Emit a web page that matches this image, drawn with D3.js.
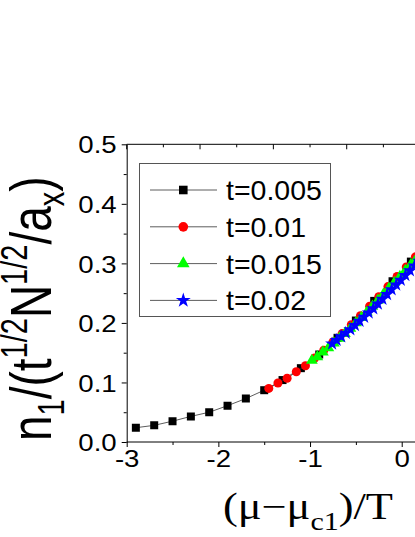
<!DOCTYPE html>
<html><head><meta charset="utf-8">
<script src="https://cdn.jsdelivr.net/npm/d3@7"></script>
<style>body{margin:0;background:#fff;}svg{display:block;}</style>
</head><body>
<svg id="c" width="415" height="537"></svg>
<script>
// ---- data ----
const seriesNames = ["t=0.005", "t=0.01", "t=0.015", "t=0.02"];
const xBlack = [-2.9,-2.7,-2.5,-2.3,-2.1,-1.9,-1.7,-1.5,-1.3,-1.1,-0.9,-0.7,-0.5,-0.3,-0.1,0.1,0.3];
const yBlack = [0.024,0.028,0.035,0.043,0.050,0.061,0.073,0.087,0.104,0.124,0.147,0.175,0.204,0.237,0.270,0.303,0.338];
const xRed = [-1.45,-1.35,-1.25,-1.15,-1.05,-0.95,-0.85,-0.75,-0.65,-0.55,-0.45,-0.35,-0.25,-0.15,-0.05,0.05,0.15,0.25];
const yRed = [0.090,0.099,0.107,0.118,0.128,0.141,0.154,0.168,0.182,0.197,0.212,0.228,0.244,0.261,0.278,0.294,0.311,0.328];
const xGreen = [-0.98,-0.92,-0.86,-0.80,-0.74,-0.68,-0.62,-0.56,-0.50,-0.44,-0.38,-0.32,-0.26,-0.20,-0.14,-0.08,-0.02,0.04,0.10,0.16,0.22];
const yGreen = [0.137,0.143,0.151,0.158,0.166,0.174,0.182,0.191,0.200,0.209,0.218,0.228,0.238,0.248,0.258,0.268,0.278,0.288,0.298,0.308,0.318];
const xBlue = [-0.76,-0.71,-0.66,-0.61,-0.56,-0.51,-0.46,-0.41,-0.36,-0.31,-0.26,-0.21,-0.16,-0.11,-0.06,-0.01,0.04,0.09,0.14,0.19];
const yBlue = [0.165,0.171,0.177,0.183,0.189,0.196,0.203,0.210,0.217,0.224,0.232,0.240,0.248,0.256,0.264,0.272,0.280,0.288,0.296,0.304];
const xTicks = [-3,-2,-1,0];
const xMinorTicks = [-2.5,-1.5,-0.5];
const yTicks = [0.0,0.1,0.2,0.3,0.4,0.5];
const yMinorTicks = [0.05,0.15,0.25,0.35,0.45];
const topMajorTicks = [-3,-2.2,-1.4,-0.6];
const topMinorTicks = [-2.6,-1.8,-1.0,-0.2];
const colors = ["#000000","#ff0000","#00ff00","#0000ff"];
const symbols = [d3.symbolSquare, d3.symbolCircle, d3.symbolTriangle, d3.symbolStar];
const symSizes = [64, 64, 60, 60];

// ---- layout ----
const svg = d3.select("#c");
const x = d3.scaleLinear().domain([-3, 0.2]).range([126.7, 126.7 + 3.2*91.67]);
const y = d3.scaleLinear().domain([0, 0.5]).range([442, 144.3]);
const FONT = "Liberation Sans, Arial, sans-serif";
const STRETCH = 1.15;

const series = [
  {name: seriesNames[0], xs: xBlack, ys: yBlack},
  {name: seriesNames[1], xs: xRed, ys: yRed},
  {name: seriesNames[2], xs: xGreen, ys: yGreen},
  {name: seriesNames[3], xs: xBlue, ys: yBlue}
];

svg.append("clipPath").attr("id","clip").append("rect")
  .attr("x", 126.7).attr("y", 100).attr("width", 415-126.7).attr("height", 342);

const plot = svg.append("g").attr("clip-path","url(#clip)");
const line = d3.line().x(d=>x(d[0])).y(d=>y(d[1]));
series.forEach((s,i)=>{
  const pts = s.xs.map((v,j)=>[v, s.ys[j]]);
  plot.append("path").datum(pts).attr("d", line)
    .attr("fill","none").attr("stroke","#333").attr("stroke-width",0.8);
  plot.selectAll(null).data(pts).enter().append("path")
    .attr("transform", d=>`translate(${x(d[0])},${y(d[1])})`)
    .attr("d", d3.symbol().type(symbols[i]).size(symSizes[i]))
    .attr("fill", colors[i]);
});

// ---- axes ----
const axB = svg.append("g").attr("transform","translate(0,442)")
  .call(d3.axisBottom(x).tickValues(xTicks).tickSize(5).tickSizeOuter(0).tickFormat(d=>d===0?"0":String(d)));
axB.select(".domain").attr("d", `M${x(-3)},0H415`).attr("stroke","#000");
axB.selectAll(".tick line").attr("stroke","#000");
axB.selectAll(".tick text").attr("font-family",FONT).attr("font-size",24).attr("fill","#000")
  .attr("y",8).attr("dy","0.71em").attr("transform",`scale(${STRETCH},1)`);
svg.append("g").attr("transform","translate(0,442)")
  .call(d3.axisBottom(x).tickValues(xMinorTicks).tickSize(3).tickFormat(""))
  .call(g=>g.select(".domain").remove());

const axL = svg.append("g").attr("transform","translate(126.7,0)")
  .call(d3.axisLeft(y).tickValues(yTicks).tickSize(5).tickSizeOuter(0).tickFormat(d3.format(".1f")));
axL.select(".domain").attr("stroke","#000");
axL.selectAll(".tick text").attr("font-family",FONT).attr("font-size",24).attr("fill","#000")
  .attr("x", -10/STRETCH).attr("dy","0.36em").attr("transform",`scale(${STRETCH},1)`);
svg.append("g").attr("transform","translate(126.7,0)")
  .call(d3.axisLeft(y).tickValues(yMinorTicks).tickSize(3).tickFormat(""))
  .call(g=>g.select(".domain").remove());

// top axis (inward ticks)
const axT = svg.append("g").attr("transform","translate(0,144.3)");
axT.append("line").attr("x1",x(-3)).attr("x2",415).attr("y1",0).attr("y2",0).attr("stroke","#000");
axT.selectAll(".maj").data(topMajorTicks).enter().append("line")
  .attr("x1",d=>x(d)).attr("x2",d=>x(d)).attr("y1",0).attr("y2",5).attr("stroke","#000");
axT.selectAll(".min").data(topMinorTicks).enter().append("line")
  .attr("x1",d=>x(d)).attr("x2",d=>x(d)).attr("y1",0).attr("y2",3).attr("stroke","#000");

// ---- axis titles ----
const xt = svg.append("text").attr("font-family","Liberation Serif, Times New Roman, serif")
  .attr("font-size",37).attr("fill","#000")
  .attr("transform",`translate(223,519) scale(1.2,1)`);
xt.append("tspan").text("(μ−μ");
xt.append("tspan").attr("font-size",25).attr("dy",11).text("c1");
xt.append("tspan").attr("dy",-11).text(")/T");

const yt = svg.append("text").attr("font-family",FONT).attr("font-size",46).attr("fill","#000")
  .attr("transform",`translate(51,441) scale(1.25,1) rotate(-90)`);
yt.append("tspan").text("n");
yt.append("tspan").attr("font-size",29).attr("dy",10).text("1");
yt.append("tspan").attr("dy",-10).text("/(t");
yt.append("tspan").attr("font-size",29).attr("dy",-19).text("1/2");
yt.append("tspan").attr("dy",19).text("N");
yt.append("tspan").attr("font-size",29).attr("dy",-19).text("1/2");
yt.append("tspan").attr("dy",19).text("/a");
yt.append("tspan").attr("font-size",29).attr("dy",10).text("x");
yt.append("tspan").attr("dy",-10).text(")");

// ---- legend ----
const lg = svg.append("g");
lg.append("rect").attr("x",139.5).attr("y",163.5).attr("width",191).attr("height",153)
  .attr("fill","#fff").attr("stroke","#555").attr("stroke-width",1);
series.forEach((s,i)=>{
  const cy = 190 + i*36.8;
  lg.append("line").attr("x1",150).attr("x2",217).attr("y1",cy).attr("y2",cy)
    .attr("stroke","#333").attr("stroke-width",0.8);
  lg.append("path").attr("transform",`translate(183.3,${cy})`)
    .attr("d", d3.symbol().type(symbols[i]).size(symSizes[i]*1.15)).attr("fill",colors[i]);
  lg.append("text").attr("x",226).attr("y",cy+10).attr("font-family",FONT)
    .attr("font-size",28.5).attr("fill","#000").text(s.name);
});
</script>
</body></html>
